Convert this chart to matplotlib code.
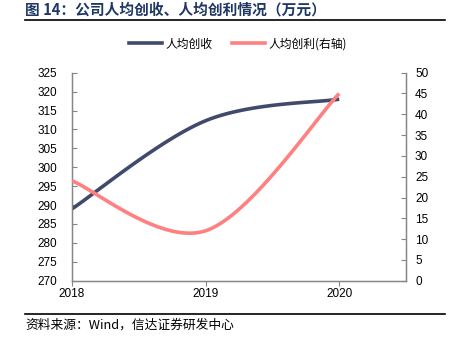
import matplotlib
matplotlib.use("Agg")
import matplotlib.pyplot as plt
import numpy as np
from matplotlib.lines import Line2D

plt.rcParams['font.family'] = ['Liberation Sans', 'Noto Sans CJK SC', 'DejaVu Sans']

years = [2018, 2019, 2020]
revenue = [289.0, 312.3, 318.0]
profit = [24.0, 12.0, 45.0]
left_ticks = list(range(270, 330, 5))
right_ticks = list(range(0, 55, 5))
title = "图 14：公司人均创收、人均创利情况（万元）"
source = "资料来源：Wind，信达证券研发中心"
name_rev = "人均创收"
name_prof = "人均创利(右轴)"

c_rev = "#414A6B"
c_prof = "#FF8080"


def smooth(xs, ys, n=60):
    pts = np.column_stack([xs, ys]).astype(float)
    m = len(pts)
    ox, oy = [], []
    for i in range(m - 1):
        p0 = pts[i - 1] if i > 0 else pts[i]
        p1 = pts[i]
        p2 = pts[i + 1]
        p3 = pts[i + 2] if i + 2 < m else pts[i + 1]
        c1 = p1 + (p2 - p0) / 6.0
        c2 = p2 - (p3 - p1) / 6.0
        t = np.linspace(0, 1, n)[:, None]
        b = ((1 - t) ** 3) * p1 + 3 * t * (1 - t) ** 2 * c1 + 3 * t ** 2 * (1 - t) * c2 + t ** 3 * p2
        ox.extend(b[:, 0]); oy.extend(b[:, 1])
    return np.array(ox), np.array(oy)


fig = plt.figure(figsize=(4.59, 3.45), dpi=100)
ax = fig.add_axes([72/459, 1 - 280.7/345, (406 - 72)/459, (280.7 - 72.7)/345])
ax2 = ax.twinx()

x1, y1 = smooth(years, revenue)
x2, y2 = smooth(years, profit)
ax.plot(x1, y1, color=c_rev, lw=2.6, solid_capstyle='butt', zorder=3)
ax2.plot(x2, y2, color=c_prof, lw=2.6, solid_capstyle='butt', zorder=3)

ax.set_xlim(2018, 2020.5)
ax.set_ylim(270, 325)
ax2.set_ylim(0, 50)
ax.set_xticks(years)
ax.set_xticklabels([str(y) for y in years])
ax.set_yticks(left_ticks)
ax2.set_yticks(right_ticks)

gray = "#868686"
for a in (ax, ax2):
    a.spines['top'].set_visible(False)
    for s in ('left', 'right', 'bottom'):
        a.spines[s].set_color(gray)
        a.spines[s].set_linewidth(0.9)
    a.tick_params(colors=gray, labelcolor='black', labelsize=8.5, width=0.8, length=3.5)
ax.tick_params(axis='y', direction='in', pad=10.5)
ax2.tick_params(axis='y', direction='in', pad=6.5)
ax.tick_params(axis='x', direction='out', pad=2)

# title
fig.text(25/459, 1 - 10/345, title, fontsize=10.6, fontweight='bold', color='#1F3864',
         va='center', ha='left', family=['Noto Sans CJK SC', 'DejaVu Sans'])
fig.add_artist(Line2D([25/459, 445/459], [1 - 20/345, 1 - 20/345], color='black', lw=1.2))
fig.add_artist(Line2D([25/459, 445/459], [1 - 314/345, 1 - 314/345], color='black', lw=1.2))
fig.text(25/459, 1 - 325/345, source, fontsize=9.2, style='italic', color='black',
         va='center', ha='left', family=['Noto Sans CJK SC', 'DejaVu Sans'])

handles = [Line2D([], [], color=c_rev, lw=2.6), Line2D([], [], color=c_prof, lw=2.6)]
fig.legend(handles, [name_rev, name_prof], loc='center', bbox_to_anchor=(238/459, 1 - 44/345),
           ncol=2, frameon=False, handlelength=2.8, columnspacing=1.6,
           handletextpad=0.3, prop={'family': ['Noto Sans CJK SC', 'DejaVu Sans'], 'size': 8.5})

fig.savefig("out.png", dpi=100)
